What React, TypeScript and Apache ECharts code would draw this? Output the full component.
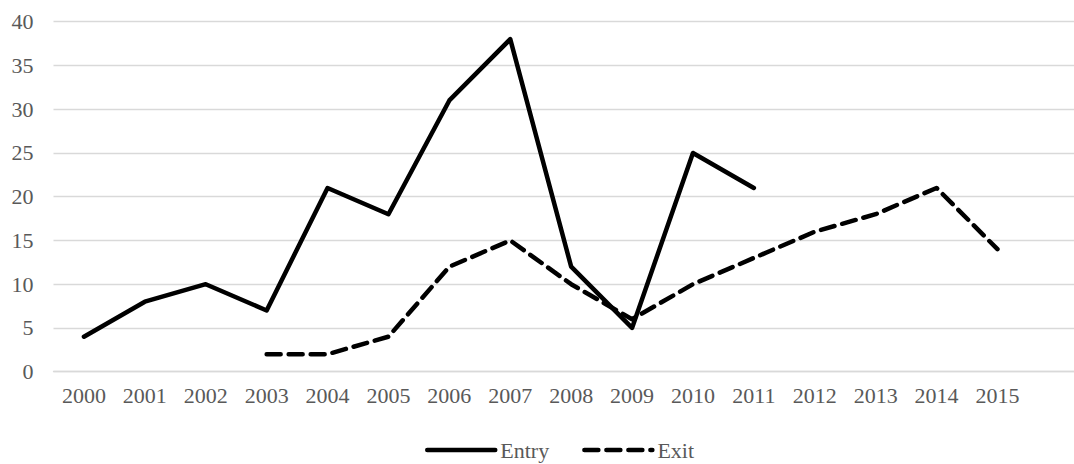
import React, { useEffect, useRef } from "react";
import * as echarts from "echarts";

const categories = ["2000", "2001", "2002", "2003", "2004", "2005", "2006", "2007", "2008", "2009", "2010", "2011", "2012", "2013", "2014", "2015", ""];
const entryValues: (number | null)[] = [4, 8, 10, 7, 21, 18, 31, 38, 12, 5, 25, 21, null, null, null, null, null];
const exitValues: (number | null)[] = [null, null, null, 2, 2, 4, 12, 15, 10, 6, 10, 13, 16, 18, 21, 14, null];

const FONT = "'Liberation Serif', 'Times New Roman', serif";
const TEXT = "#595959";
const GRID = "#d9d9d9";

export default function App() {
  const ref = useRef<HTMLDivElement>(null);
  useEffect(() => {
    if (!ref.current) return;
    const chart = echarts.init(ref.current, undefined, { renderer: "svg" });
    chart.setOption({
      animation: false,
      textStyle: { fontFamily: FONT },
      grid: { left: 53.5, right: 11.2, top: 21.7, bottom: 92.3, containLabel: false },
      legend: {
        left: 425,
        top: 439,
        padding: 0,
        itemWidth: 68,
        itemHeight: 18,
        itemGap: 33,
        itemStyle: { opacity: 0 },
        lineStyle: { width: 4.5, cap: "round" },
        textStyle: { fontFamily: FONT, fontSize: 22, color: TEXT },
        data: ["Entry", "Exit"],
      },
      xAxis: {
        type: "category",
        data: categories,
        boundaryGap: true,
        axisLine: { lineStyle: { color: GRID, width: 1.3 } },
        axisTick: { show: false },
        axisLabel: { color: TEXT, fontFamily: FONT, fontSize: 22, margin: 13, interval: 0 },
      },
      yAxis: {
        type: "value",
        min: 0,
        max: 40,
        interval: 5,
        axisLine: { show: false },
        axisTick: { show: false },
        axisLabel: { color: TEXT, fontFamily: FONT, fontSize: 22, margin: 20 },
        splitLine: { lineStyle: { color: GRID, width: 1.3 } },
      },
      series: [
        {
          name: "Entry",
          type: "line",
          data: entryValues,
          symbol: "none",
          showSymbol: false,
          connectNulls: false,
          lineStyle: { color: "#000", width: 4.5, cap: "round", join: "round" },
          itemStyle: { color: "#000" },
        },
        {
          name: "Exit",
          type: "line",
          data: exitValues,
          symbol: "none",
          showSymbol: false,
          connectNulls: false,
          lineStyle: { color: "#000", width: 4.5, type: [14, 8], cap: "round", join: "round" },
          itemStyle: { color: "#000" },
        },
      ],
    });
    return () => chart.dispose();
  }, []);
  return (
    <div style={{ position: "absolute", left: 0, top: 0, width: 1074, height: 464, overflow: "hidden", background: "#fff" }}>
      <div ref={ref} style={{ position: "absolute", left: 0, top: 0, width: 1100, height: 464 }} />
    </div>
  );
}
